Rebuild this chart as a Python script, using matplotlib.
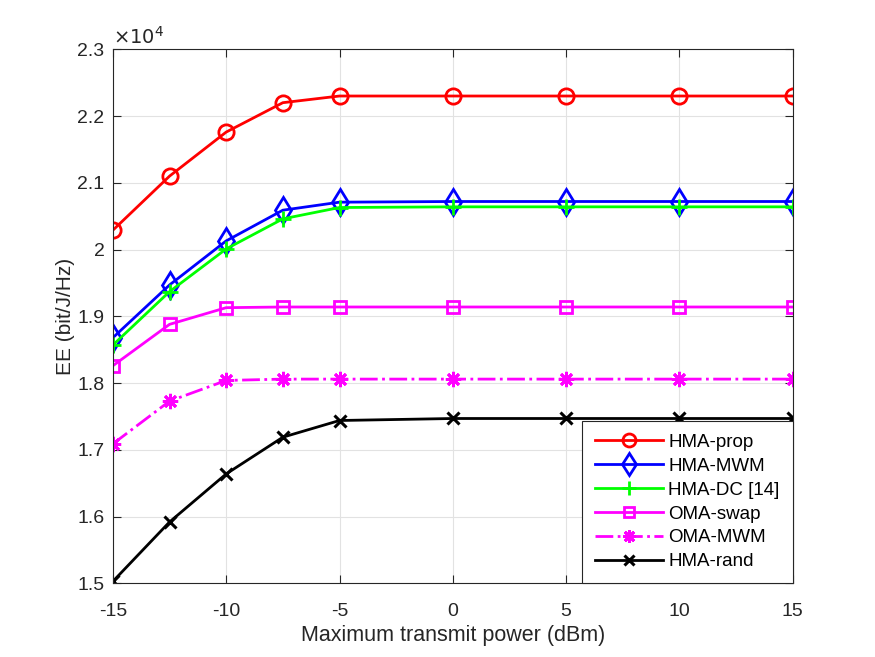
import matplotlib.pyplot as plt
from matplotlib.ticker import FuncFormatter

plt.rcParams['font.family'] = ['Liberation Sans', 'DejaVu Sans']
plt.rcParams['axes.unicode_minus'] = False

# maximum transmit power (dBm)
power = [-15, -12.5, -10, -7.5, -5, 0, 5, 10, 15]

# energy efficiency, in units of 1e4 bit/J/Hz
hma_prop = [2.029, 2.110, 2.176, 2.220, 2.230, 2.230, 2.230, 2.230, 2.230]
hma_mwm = [1.868, 1.947, 2.013, 2.059, 2.071, 2.072, 2.072, 2.072, 2.072]
hma_dc = [1.857, 1.937, 2.001, 2.046, 2.063, 2.064, 2.064, 2.064, 2.064]
oma_swap = [1.826, 1.888, 1.913, 1.914, 1.914, 1.914, 1.914, 1.914, 1.914]
oma_mwm = [1.709, 1.773, 1.804, 1.806, 1.806, 1.806, 1.806, 1.806, 1.806]
hma_rand = [1.503, 1.592, 1.664, 1.719, 1.744, 1.747, 1.747, 1.747, 1.747]

fig = plt.figure(figsize=(8.75, 6.57), dpi=100)
ax = fig.add_axes([0.129, 0.112, 0.777, 0.813])

lw = 2
ax.plot(power, hma_prop, '-o', color='#ff0000', lw=lw, ms=11, mfc='none', mew=2, label='HMA-prop')
ax.plot(power, hma_mwm, '-d', color='#0000ff', lw=lw, ms=13, mfc='none', mew=2, label='HMA-MWM')
ax.plot(power, hma_dc, '-+', color='#00ff00', lw=lw, ms=12, mew=2, label='HMA-DC [14]')
ax.plot(power, oma_swap, '-s', color='#ff00ff', lw=lw, ms=9, mfc='none', mew=2, label='OMA-swap')
ax.plot(power, oma_mwm, '-.', marker=(8, 2, 0), color='#ff00ff', lw=lw, ms=11, mew=2, label='OMA-MWM')
ax.plot(power, hma_rand, '-x', color='black', lw=lw, ms=9, mew=2.2, label='HMA-rand')

ax.set_xlim(-15, 15)
ax.set_ylim(1.5, 2.3)
ax.set_xticks([-15, -10, -5, 0, 5, 10, 15])
ax.set_yticks([1.5, 1.6, 1.7, 1.8, 1.9, 2.0, 2.1, 2.2, 2.3])
ax.yaxis.set_major_formatter(FuncFormatter(lambda v, p: '%g' % round(v, 2)))

edge = '#262626'
for s in ax.spines.values():
    s.set_color(edge)
    s.set_linewidth(0.8)
ax.tick_params(direction='in', top=True, right=True, colors=edge, labelsize=14, length=6)
ax.tick_params(axis='x', pad=14)
ax.tick_params(axis='y', pad=6)
ax.grid(True, color='#e2e2e2', lw=0.8)
ax.set_axisbelow(True)

ax.set_xlabel('Maximum transmit power (dBm)', fontsize=15.5, color=edge, labelpad=4)
ax.set_ylabel('EE (bit/J/Hz)', fontsize=15, color=edge, labelpad=2)
ax.text(0.0, 1.003, r'$\times 10^4$', transform=ax.transAxes, fontsize=14,
        color=edge, va='bottom', ha='left')

leg = ax.legend(loc='lower right', fontsize=13.5, fancybox=False, framealpha=1,
                edgecolor=edge, borderaxespad=0.0, handlelength=3.6,
                handletextpad=0.3, labelspacing=0.36, borderpad=0.7,
                markerscale=0.85)
leg.get_frame().set_linewidth(0.8)

plt.savefig('out.png', dpi=100)
